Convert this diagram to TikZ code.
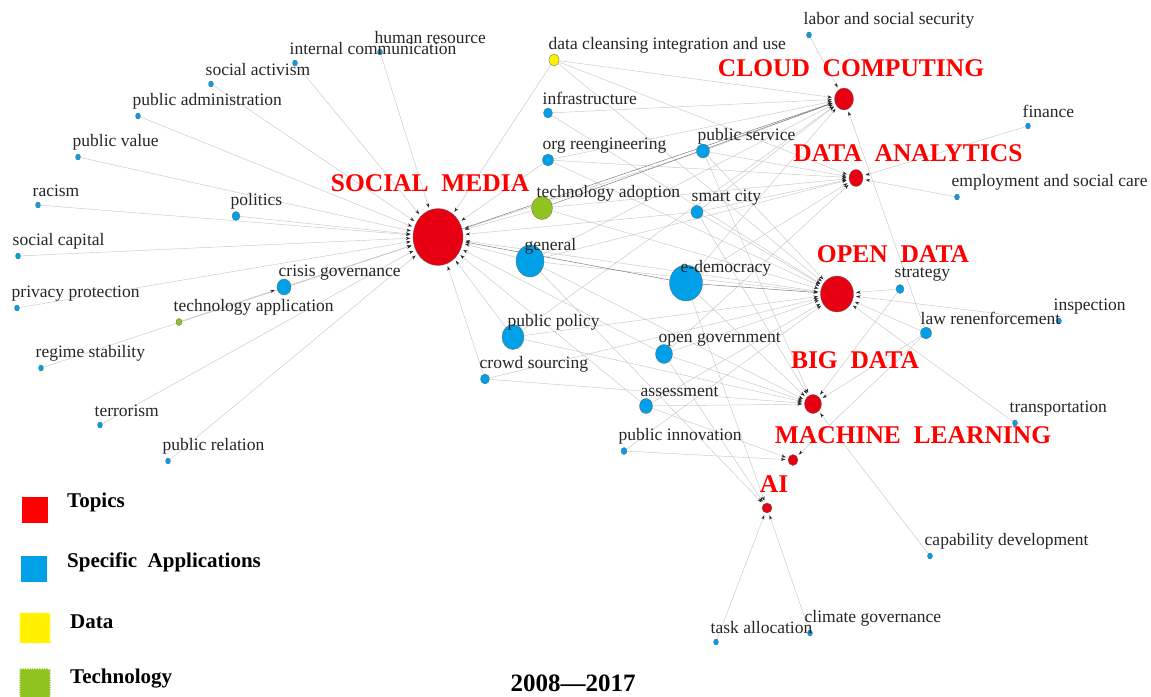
\documentclass[tikz,border=0pt]{standalone}
\usepackage{fontspec}
\setmainfont{Liberation Serif}
\usepackage{tikz}
\usetikzlibrary{shapes.geometric,arrows.meta,backgrounds,decorations.pathmorphing}

\definecolor{topicred}{HTML}{E60012}
\definecolor{titlered}{HTML}{FF0000}
\definecolor{appblue}{HTML}{00A0E9}
\definecolor{datayellow}{HTML}{FFF100}
\definecolor{techgreen}{HTML}{8FC31F}

\begin{document}
\begin{tikzpicture}[x=1pt, y=-1pt,
    kw/.style 2 args={ellipse, draw=black!60, line width=0.3pt, inner sep=0pt, minimum width=#1pt, minimum height=#2pt},
    topic/.style 2 args={kw={#1}{#2}, fill=topicred},
    app/.style 2 args={kw={#1}{#2}, fill=appblue},
    datanode/.style 2 args={kw={#1}{#2}, fill=datayellow},
    technode/.style 2 args={kw={#1}{#2}, fill=techgreen},
    lbl/.style={anchor=west, inner sep=0pt, text=black!85, font=\fontsize{17.5}{20}\selectfont},
    ttl/.style={inner sep=0pt, text=titlered, font=\fontsize{25.5}{26}\selectfont\bfseries},
    lgtext/.style={anchor=west, inner sep=0pt, font=\fontsize{21}{22}\selectfont\bfseries},
    arr/.style={draw=black!22, line width=0.45pt, -{Stealth[length=4.5pt,width=3pt,color=black!85]}, shorten >=2.5pt},
    strong/.style={draw=black!55},
    rough/.style={decorate, decoration={zigzag, segment length=2.4pt, amplitude=0.9pt}}]
    \useasboundingbox (0,0) rectangle (1151,696);

    % topics
    \node[topic={50}{57}] (sm) at (438,237) {};
    \node[topic={19}{22}] (cc) at (844,99) {};
    \node[topic={14}{17}] (da) at (856,178) {};
    \node[topic={33}{36}] (od) at (837,294) {};
    \node[topic={17}{19}] (bd) at (813,404) {};
    \node[topic={10}{11}] (ml) at (793,460) {};
    \node[topic={10}{10}] (ai) at (767,508) {};

    \node[ttl] (smtxt) at (430,183) {SOCIAL~~MEDIA};
    \node[ttl] (cctxt) at (851,68) {CLOUD~~COMPUTING};
    \node[ttl] (datxt) at (908,153) {DATA~~ANALYTICS};
    \node[ttl] (odtxt) at (893,254) {OPEN~~DATA};
    \node[ttl] (bdtxt) at (855,360) {BIG~~DATA};
    \node[ttl] (mltxt) at (913,435) {MACHINE~~LEARNING};
    \node[ttl] (aitxt) at (774,484) {AI};

    % keywords, right side
    \node[app={5}{6}] (labor) at (809,35) {};
    \node[app={5}{6}] (finance) at (1028,126) {};
    \node[app={5}{6}] (employ) at (957,197) {};
    \node[app={8}{9}] (strat) at (900,289) {};
    \node[app={5}{6}] (insp) at (1059,321) {};
    \node[app={11}{12}] (lawenf) at (926,333) {};
    \node[app={5}{6}] (transp) at (1015,423) {};
    \node[app={5}{6}] (capab) at (930,556) {};
    \node[app={5}{6}] (climate) at (810,633) {};
    \node[app={5}{6}] (task) at (716,642) {};

    % keywords, middle
    \node[app={6}{7}] (pinnov) at (624,451) {};
    \node[app={13}{15}] (assess) at (646,406) {};
    \node[app={9}{10}] (crowd) at (485,379) {};
    \node[app={17}{19}] (opengov) at (664,354) {};
    \node[app={22}{25}] (ppolicy) at (513,337) {};
    \node[app={33}{36}] (edem) at (686,283) {};
    \node[app={28}{32}] (general) at (530,261) {};
    \node[technode={21}{23}] (techadopt) at (542,208) {};
    \node[app={12}{13}] (smart) at (697,212) {};
    \node[app={13}{14}] (pservice) at (703,151) {};
    \node[app={11}{12}] (orgre) at (548,160) {};
    \node[app={9}{10}] (infra) at (548,113) {};
    \node[datanode={10}{12}] (dataclean) at (554,60) {};

    % keywords, left side
    \node[app={5}{6}] (hr) at (380,52) {};
    \node[app={5}{6}] (intcomm) at (295,63) {};
    \node[app={5}{6}] (socact) at (211,84) {};
    \node[app={5}{6}] (padmin) at (138,116) {};
    \node[app={5}{6}] (pvalue) at (78,157) {};
    \node[app={5}{6}] (racism) at (38,205) {};
    \node[app={8}{9}] (politics) at (236,216) {};
    \node[app={5}{6}] (soccap) at (18,256) {};
    \node[app={14}{16}] (crisis) at (284,287) {};
    \node[app={5}{6}] (privacy) at (17,308) {};
    \node[technode={6}{7}] (techapp) at (179,322) {};
    \node[app={5}{6}] (regime) at (41,368) {};
    \node[app={5}{6}] (terror) at (100,425) {};
    \node[app={5}{6}] (prel) at (168,461) {};

    % keyword texts, up and left of each dot
    \node[lbl] (labortxt) at ([shift={(-5.5,-14.5)}]labor.center) {labor and social security};
    \node[lbl] (financetxt) at ([shift={(-5.5,-14.5)}]finance.center) {finance};
    \node[lbl] (employtxt) at ([shift={(-5.5,-14.5)}]employ.center) {employment and social care};
    \node[lbl] (strattxt) at ([shift={(-5.5,-14.5)}]strat.center) {strategy};
    \node[lbl] (insptxt) at ([shift={(-5.5,-14.5)}]insp.center) {inspection};
    \node[lbl] (lawenftxt) at ([shift={(-5.5,-14.5)}]lawenf.center) {law renenforcement};
    \node[lbl] (transptxt) at ([shift={(-5.5,-14.5)}]transp.center) {transportation};
    \node[lbl] (capabtxt) at ([shift={(-5.5,-14.5)}]capab.center) {capability development};
    \node[lbl] (climatetxt) at ([shift={(-5.5,-14.5)}]climate.center) {climate governance};
    \node[lbl] (tasktxt) at ([shift={(-5.5,-14.5)}]task.center) {task allocation};
    \node[lbl] (pinnovtxt) at ([shift={(-5.5,-14.5)}]pinnov.center) {public innovation};
    \node[lbl] (assesstxt) at ([shift={(-5.5,-14.5)}]assess.center) {assessment};
    \node[lbl] (crowdtxt) at ([shift={(-5.5,-14.5)}]crowd.center) {crowd sourcing};
    \node[lbl] (opengovtxt) at ([shift={(-5.5,-14.5)}]opengov.center) {open government};
    \node[lbl] (ppolicytxt) at ([shift={(-5.5,-14.5)}]ppolicy.center) {public policy};
    \node[lbl] (edemtxt) at ([shift={(-5.5,-14.5)}]edem.center) {e-democracy};
    \node[lbl] (generaltxt) at ([shift={(-5.5,-14.5)}]general.center) {general};
    \node[lbl] (techadopttxt) at ([shift={(-5.5,-14.5)}]techadopt.center) {technology adoption};
    \node[lbl] (smarttxt) at ([shift={(-5.5,-14.5)}]smart.center) {smart city};
    \node[lbl] (pservicetxt) at ([shift={(-5.5,-14.5)}]pservice.center) {public service};
    \node[lbl] (orgretxt) at ([shift={(-5.5,-14.5)}]orgre.center) {org reengineering};
    \node[lbl] (infratxt) at ([shift={(-5.5,-14.5)}]infra.center) {infrastructure};
    \node[lbl] (datacleantxt) at ([shift={(-5.5,-14.5)}]dataclean.center) {data cleansing integration and use};
    \node[lbl] (hrtxt) at ([shift={(-5.5,-14.5)}]hr.center) {human resource};
    \node[lbl] (intcommtxt) at ([shift={(-5.5,-14.5)}]intcomm.center) {internal communication};
    \node[lbl] (socacttxt) at ([shift={(-5.5,-14.5)}]socact.center) {social activism};
    \node[lbl] (padmintxt) at ([shift={(-5.5,-14.5)}]padmin.center) {public administration};
    \node[lbl] (pvaluetxt) at ([shift={(-5.5,-14.5)}]pvalue.center) {public value};
    \node[lbl] (racismtxt) at ([shift={(-5.5,-14.5)}]racism.center) {racism};
    \node[lbl] (politicstxt) at ([shift={(-5.5,-14.5)}]politics.center) {politics};
    \node[lbl] (soccaptxt) at ([shift={(-5.5,-14.5)}]soccap.center) {social capital};
    \node[lbl] (crisistxt) at ([shift={(-5.5,-14.5)}]crisis.center) {crisis governance};
    \node[lbl] (privacytxt) at ([shift={(-5.5,-14.5)}]privacy.center) {privacy protection};
    \node[lbl] (techapptxt) at ([shift={(-5.5,-14.5)}]techapp.center) {technology application};
    \node[lbl] (regimetxt) at ([shift={(-5.5,-14.5)}]regime.center) {regime stability};
    \node[lbl] (terrortxt) at ([shift={(-5.5,-14.5)}]terror.center) {terrorism};
    \node[lbl] (preltxt) at ([shift={(-5.5,-14.5)}]prel.center) {public relation};

    % links
    \begin{scope}[on background layer]
    \foreach \s in {hr,intcomm,socact,padmin,pvalue,racism,politics,soccap,privacy,crisis,techapp,regime,terror,prel,dataclean,orgre,techadopt,general,ppolicy,crowd,opengov,assess,pservice,smart,od}
        \draw[arr] (\s) -- (sm);
    \foreach \s in {labor,dataclean,infra,orgre,pservice,smart,general,edem,lawenf,ppolicy}
        \draw[arr] (\s) -- (cc);
    \foreach \s in {finance,employ,dataclean,pservice,smart,techadopt,general,edem,orgre,opengov}
        \draw[arr] (\s) -- (da);
    \foreach \s in {general,ppolicy,opengov,smart,pservice,techadopt,crowd,assess,strat,insp,lawenf,transp,dataclean,infra,orgre,pinnov}
        \draw[arr] (\s) -- (od);
    \foreach \s in {ppolicy,opengov,assess,crowd,general,edem,lawenf,strat,capab,pservice,smart}
        \draw[arr] (\s) -- (bd);
    \foreach \s in {assess,lawenf,pinnov}
        \draw[arr] (\s) -- (ml);
    \foreach \s in {task,climate,edem,opengov,general}
        \draw[arr] (\s) -- (ai);
    \draw[arr, strong] (edem) -- (sm);
    \draw[arr, strong] (edem) -- (od);
    \draw[arr, strong] (techadopt) -- (cc);
    \draw[arr, strong] (sm) -- (cc);
    \draw[arr] (techapp) -- (crisis);
    \end{scope}

    % legend
    \node[fill=titlered, minimum size=26pt, inner sep=0pt] (lgtopic) at (35,510) {};
    \node[fill=appblue, minimum size=26pt, inner sep=0pt] (lgapp) at (34,569) {};
    \fill[datayellow, rough] (20,613) rectangle (50,643);
    \fill[techgreen, rough] (20,669) rectangle (50,699);
    \node[lgtext] (lgtopictxt) at (67,502) {Topics};
    \node[lgtext] (lgapptxt) at (67,562) {Specific~~Applications};
    \node[lgtext] (lgdatatxt) at (70,622) {Data};
    \node[lgtext] (lgtechtxt) at (70,679) {Technology};

    \node[inner sep=0pt, font=\fontsize{25}{26}\selectfont\bfseries] (period) at (573,683) {2008—2017};
\end{tikzpicture}
\end{document}
